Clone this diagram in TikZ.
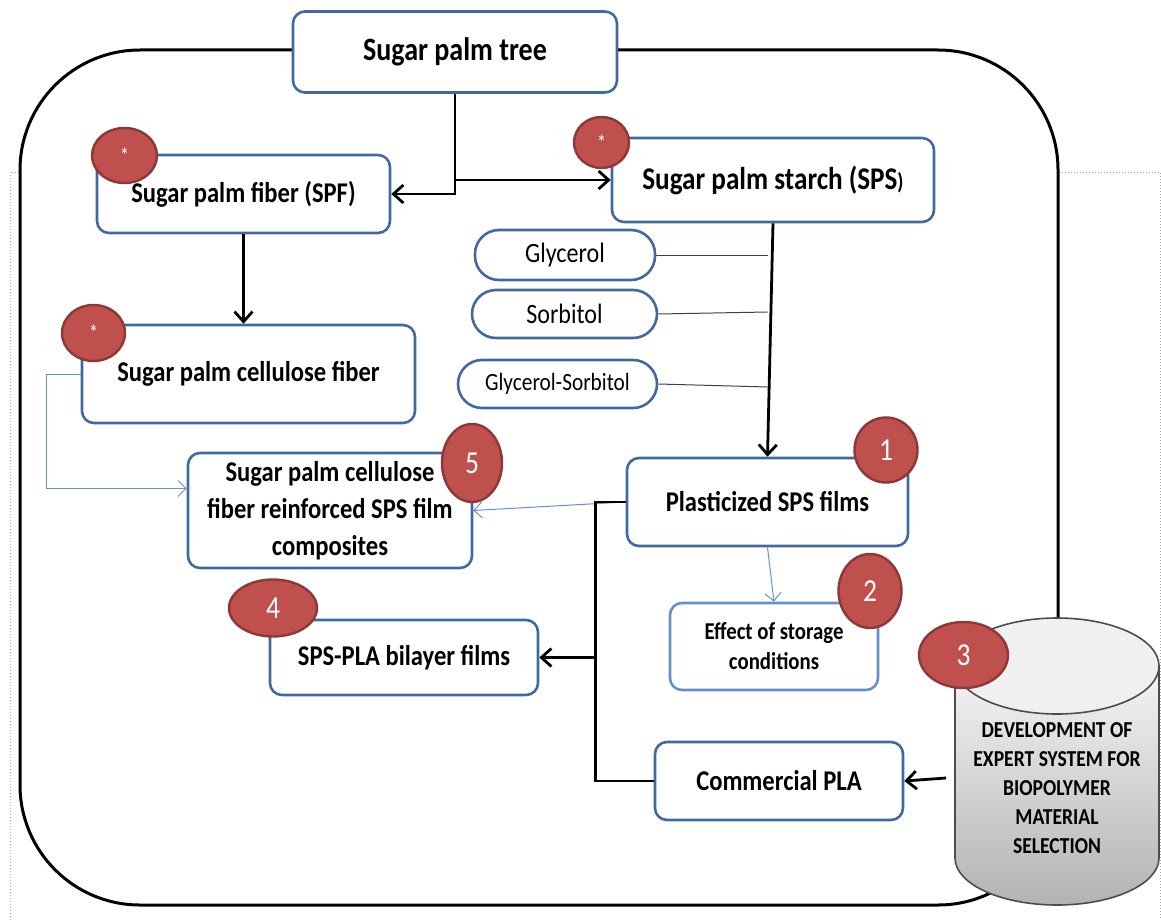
\documentclass[tikz,border=0pt]{standalone}
\usepackage{fontspec}
\setmainfont{Carlito}[FakeStretch=0.86]
\usetikzlibrary{calc}
\usetikzlibrary{shapes.geometric}
\usetikzlibrary{arrows.meta}

\definecolor{boxblue}{RGB}{65,105,160}
\definecolor{lightblue}{RGB}{100,145,205}
\definecolor{badgered}{RGB}{192,80,77}
\definecolor{badgeedge}{RGB}{140,56,54}

\tikzset{
  box/.style={draw=boxblue, line width=1.3pt, rounded corners=6pt, fill=white, align=center,
    font=\bfseries\fontsize{14.3}{18.5}\selectfont},
  pill/.style={draw=boxblue, line width=1.3pt, rounded corners=12pt, fill=white,
    font=\fontsize{14}{16}\selectfont},
  badge/.style={ellipse, draw=badgeedge, line width=1.2pt, fill=badgered, text=white,
    font=\fontsize{16}{18}\selectfont},
  flow/.style={line width=1.4pt, -{Straight Barb[length=5pt,width=9pt]}},
  thinflow/.style={draw=lightblue, line width=0.5pt, -{Straight Barb[length=4pt,width=8pt]}},
  addline/.style={draw=black!75, line width=0.5pt}
}

\begin{document}
\begin{tikzpicture}[inner sep=0pt]
\def\u{0.5pt}
\useasboundingbox (0,0) rectangle (1161*\u,-920*\u);

% frame
\draw[gray!70, densely dotted, line width=0.5pt] (10*\u,-920*\u) -- (10*\u,-172*\u) -- (1160*\u,-172*\u) -- (1160*\u,-920*\u);
\draw[line width=1.5pt, rounded corners=60pt, fill=white] (20*\u,-50*\u) rectangle (1058*\u,-905*\u);

% boxes
\node[box, minimum width=324*\u, minimum height=81*\u, font=\bfseries\fontsize{16.3}{19}\selectfont] (tree) at (455*\u,-52*\u) {Sugar palm tree};
\node[box, minimum width=293*\u, minimum height=78*\u] (spf) at (243.5*\u,-194*\u) {Sugar palm fiber (SPF)};
\node[box, minimum width=322*\u, minimum height=84*\u, font=\bfseries\fontsize{15.8}{18}\selectfont] (sps) at (773*\u,-180*\u) {Sugar palm starch (SPS{\fontsize{11.5}{12}\selectfont)}};
\node[pill, minimum width=180*\u, minimum height=50*\u] (gly) at (565*\u,-255*\u) {Glycerol};
\node[pill, minimum width=185*\u, minimum height=48*\u] (sor) at (564.5*\u,-314*\u) {Sorbitol};
\node[pill, minimum width=199*\u, minimum height=48*\u, font=\fontsize{12.4}{14}\selectfont] (glysor) at (557.5*\u,-384*\u) {Glycerol-Sorbitol};
\node[box, minimum width=333*\u, minimum height=98*\u] (cell) at (248.5*\u,-374*\u) {Sugar palm cellulose fiber};
\node[box, minimum width=284*\u, minimum height=115*\u] (comp) at (330*\u,-510.5*\u) {Sugar palm cellulose\\fiber reinforced SPS film\\composites};
\node[box, minimum width=281*\u, minimum height=88*\u] (plas) at (767.5*\u,-502*\u) {Plasticized SPS films};
\node[box, draw=lightblue, minimum width=208*\u, minimum height=87*\u, font=\bfseries\fontsize{12.1}{15}\selectfont] (stor) at (774*\u,-646.5*\u) {Effect of storage\\conditions};
\node[box, minimum width=268*\u, minimum height=75*\u] (bil) at (404*\u,-657.5*\u) {SPS-PLA bilayer films};
\node[box, minimum width=248*\u, minimum height=78*\u] (pla) at (779*\u,-781*\u) {Commercial PLA};

% connectors
\coordinate (split) at (tree.south |- spf.east);
\draw[flow] (tree.south) -- (split) -- (spf.east);
\draw[flow] (tree.south |- sps.west) -- (sps.west);
\draw[flow] (spf.south) -- (spf.south |- cell.north);
\draw[thinflow] (cell.west) -- ++(-34*\u,0) |- ([yshift=11pt]comp.west);
\draw[flow] (sps.south) -- (plas.north);
\draw[addline] (gly.east) -- (gly.east -| plas.north);
\draw[addline] (sor.east) -- ($(sor.east -| plas.north)+(0,2*\u)$);
\draw[addline] (glysor.east) -- ($(glysor.east -| plas.north)+(0,-3*\u)$);
\draw[thinflow] (plas.west) -- (comp.east);
\draw[thinflow] (plas.south) -- (stor.north);
\coordinate (bend) at ($(plas.west)+(-30*\u,0)$);
\draw[line width=1.4pt] (plas.west) -- (bend) |- (pla.west);
\draw[flow] (bend |- bil.east) -- (bil.east);

% database
\shade[top color=gray!8, bottom color=gray!60, draw=black!70, line width=0.8pt]
  (955*\u,-666*\u) -- (955*\u,-858*\u) arc[start angle=180, end angle=360, x radius=102*\u, y radius=47*\u]
  -- (1159*\u,-666*\u) -- cycle;
\draw[fill=gray!12, draw=black!70, line width=0.8pt] (1057*\u,-666*\u) ellipse[x radius=102*\u, y radius=48*\u];
\node[align=center, font=\bfseries\fontsize{11.4}{14.5}\selectfont] (expert) at (1057*\u,-788*\u) {DEVELOPMENT OF\\EXPERT SYSTEM FOR\\BIOPOLYMER\\MATERIAL\\SELECTION};
\coordinate (dbin) at (946*\u,-778*\u);
\draw[flow] (dbin) -- (pla.east);

% badges
\node[badge, minimum width=65*\u, minimum height=55*\u, font=\fontsize{11}{12}\selectfont] (star1) at (124.5*\u,-155.5*\u) {*};
\node[badge, minimum width=55*\u, minimum height=51*\u, font=\fontsize{11}{12}\selectfont] (star2) at (601.5*\u,-142.5*\u) {*};
\node[badge, minimum width=63*\u, minimum height=56*\u, font=\fontsize{11}{12}\selectfont] (star3) at (93.5*\u,-333*\u) {*};
\node[badge, minimum width=63*\u, minimum height=65*\u] (b1) at (886*\u,-450*\u) {1};
\node[badge, minimum width=63*\u, minimum height=74*\u] (b2) at (870*\u,-591*\u) {2};
\node[badge, minimum width=89*\u, minimum height=66*\u] (b3) at (963.5*\u,-655*\u) {3};
\node[badge, minimum width=88*\u, minimum height=57*\u] (b4) at (273*\u,-608*\u) {4};
\node[badge, minimum width=60*\u, minimum height=78*\u] (b5) at (472*\u,-463*\u) {5};
\end{tikzpicture}
\end{document}
